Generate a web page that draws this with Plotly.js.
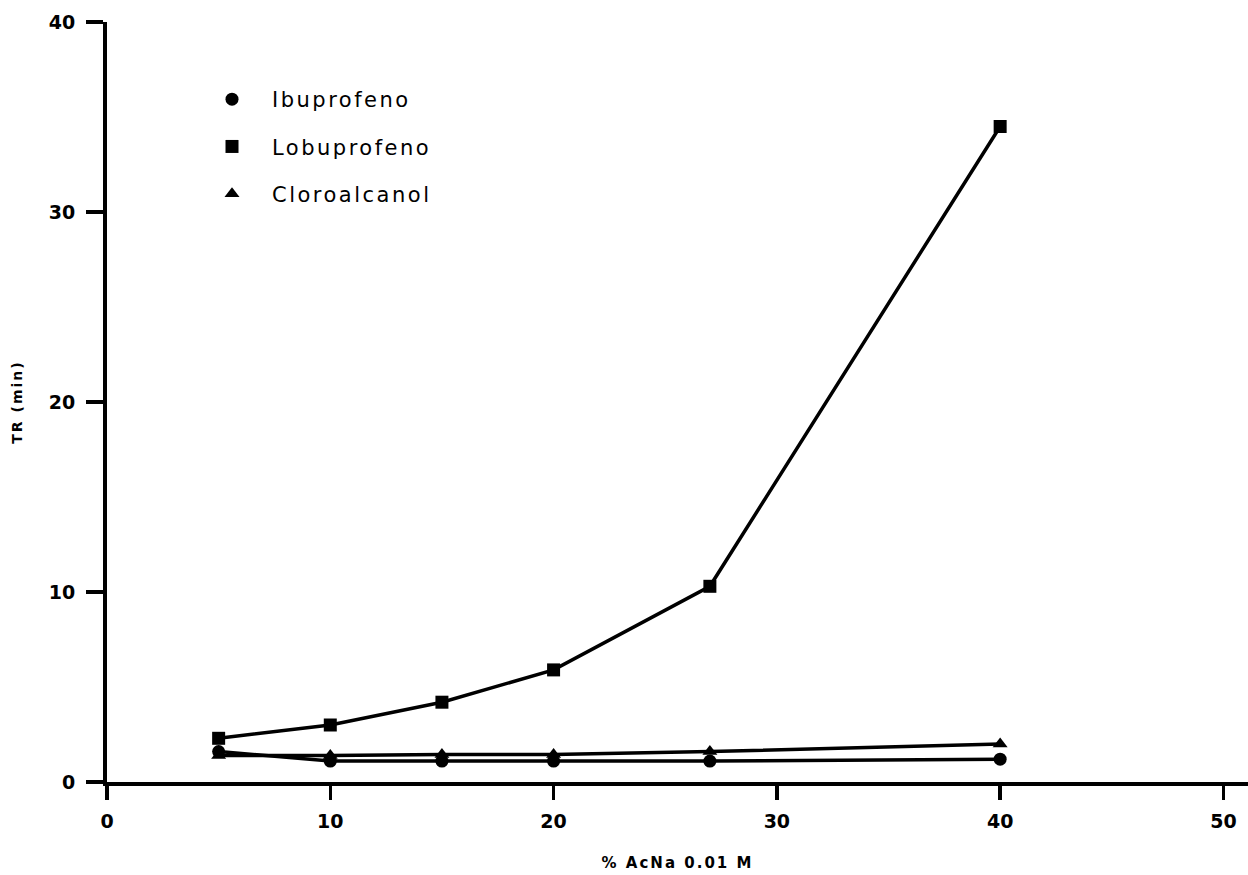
<!DOCTYPE html>
<html>
<head>
<meta charset="utf-8">
<script src="https://cdn.plot.ly/plotly-3.0.1.min.js"></script>
<style>
  html, body { margin: 0; padding: 0; background: #fff; }
  #chart { width: 1248px; height: 875px; }
  .legendtext { letter-spacing: 2.5px; }
  .xtitle, .ytitle { letter-spacing: 2px; }
</style>
</head>
<body>
<div id="chart"></div>
<script>
// Data
const acna = [5, 10, 15, 20, 27, 40];                 // % AcNa 0.01 M
const ibuprofeno = [1.6, 1.1, 1.1, 1.1, 1.1, 1.2];    // TR (min)
const lobuprofeno = [2.3, 3.0, 4.2, 5.9, 10.3, 34.5];
const cloroalcanol = [1.4, 1.4, 1.45, 1.45, 1.6, 2.0];
const seriesNames = ['Ibuprofeno', 'Lobuprofeno', 'Cloroalcanol'];
const xTicks = [0, 10, 20, 30, 40, 50];
const yTicks = [0, 10, 20, 30, 40];

const seriesValues = [ibuprofeno, lobuprofeno, cloroalcanol];
const symbols = ['circle', 'square', 'triangle-up'];
const sizes = [13, 13, 13];

const traces = [];
// lines (no legend)
seriesValues.forEach((vals, i) => {
  traces.push({
    x: acna, y: vals, type: 'scatter', mode: 'lines',
    line: {color: '#000', width: 3.5},
    showlegend: false, hoverinfo: 'skip'
  });
});
// markers (with legend)
seriesValues.forEach((vals, i) => {
  traces.push({
    x: acna, y: vals, type: 'scatter', mode: 'markers',
    name: seriesNames[i], legendgroup: 'g' + i,
    marker: {color: '#000', symbol: symbols[i], size: sizes[i]}
  });
});

const layout = {
  width: 1248, height: 875,
  margin: {l: 107, r: 0, t: 22, b: 93},
  paper_bgcolor: '#fff', plot_bgcolor: '#fff',
  showlegend: true,
  legend: {
    x: 0.0745, y: 0.925, xanchor: 'left', yanchor: 'top',
    itemwidth: 70, tracegroupgap: 17,
    font: {family: 'DejaVu Sans', size: 21, color: '#000'},
    bgcolor: 'rgba(0,0,0,0)'
  },
  xaxis: {
    range: [0, 51.1], tickvals: xTicks, ticktext: xTicks.map(String),
    showgrid: false, zeroline: false,
    showline: true, linecolor: '#000', linewidth: 4,
    ticks: 'outside', ticklen: 14, tickwidth: 3.5, tickcolor: '#000',
    ticklabelstandoff: 5,
    tickfont: {family: 'DejaVu Sans', size: 19, color: '#000', weight: 'bold'},
    title: {text: '% AcNa 0.01 M', standoff: 28,
            font: {family: 'DejaVu Sans', size: 15, color: '#000', weight: 'bold'}},
    fixedrange: true
  },
  yaxis: {
    range: [0, 40], tickvals: yTicks, ticktext: yTicks.map(String),
    showgrid: false, zeroline: false,
    showline: true, linecolor: '#000', linewidth: 4,
    ticks: 'outside', ticklen: 17, tickwidth: 3.5, tickcolor: '#000',
    ticklabelstandoff: 7,
    tickfont: {family: 'DejaVu Sans', size: 19, color: '#000', weight: 'bold'},
    title: {text: 'TR (min)', standoff: 24,
            font: {family: 'DejaVu Sans', size: 14, color: '#000', weight: 'bold'}},
    fixedrange: true
  }
};

Plotly.newPlot('chart', traces, layout, {displayModeBar: false, staticPlot: true});
</script>
</body>
</html>
